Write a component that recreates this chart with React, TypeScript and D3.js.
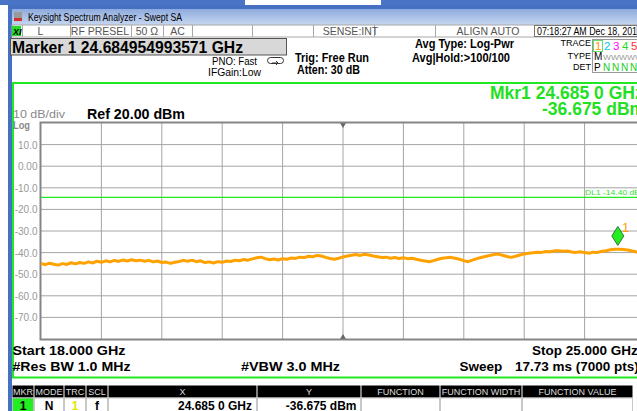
import React from "react";
import * as d3 from "d3";

const freqStart = 18.0;
const freqStop = 25.0;
const freqStep = 0.05;
const refLevel = 20;
const dbPerDiv = 10;
const yTickValues = [10, 0, -10, -20, -30, -40, -50, -60, -70];
const yTickLabels = ["10.0", "0.00", "-10.0", "-20.0", "-30.0", "-40.0", "-50.0", "-60.0", "-70.0"];
const traceValues = [
  -45.0, -45.6, -44.9, -45.4, -45.8, -45.1, -45.5, -44.7, -45.2, -44.6,
  -45.0, -44.3, -44.8, -44.0, -44.5, -43.8, -44.3, -43.6, -44.1, -43.4,
  -43.9, -43.3, -43.8, -43.5, -44.0, -43.6, -44.3, -43.9, -44.6, -44.4,
  -45.0, -44.5, -44.1, -43.6, -44.0, -43.5, -44.2, -43.8, -44.6, -44.3,
  -44.8, -44.2, -44.5, -43.9, -44.1, -43.5, -43.8, -43.2, -43.5, -42.9,
  -42.4, -42.1, -42.8, -43.3, -43.0, -43.4, -42.8, -43.1, -42.5, -42.7,
  -42.1, -42.3, -41.7, -41.9, -41.3, -41.6, -42.2, -42.7, -43.1, -42.6,
  -42.0, -41.6, -41.2, -40.9, -41.3, -40.8, -41.1, -41.6, -41.9, -42.3,
  -42.1, -42.6, -42.3, -42.7, -42.4, -42.8, -42.6, -43.1, -43.5, -43.9,
  -44.2, -43.7, -43.1, -42.6, -42.4, -42.2, -42.6, -43.1, -43.7, -44.2,
  -43.5, -42.8, -42.3, -41.8, -41.3, -40.9, -40.7, -41.2, -41.8, -42.2,
  -41.7, -41.1, -40.6, -40.3, -40.1, -39.8, -39.9, -39.5, -39.6, -39.2,
  -39.1, -39.4, -39.2, -39.7, -39.9, -39.6, -40.0, -40.3, -39.8, -39.9,
  -39.4, -39.1, -38.7, -38.4, -38.5, -38.6, -38.8, -39.2, -39.7, -40.1,
  -40.3,
];
const markerFreq = 24.685;
const markerValue = -36.675;
const displayLine = -14.4;
const statusCells = ["L", "RF PRESEL", "50 Ω", "AC", "SENSE:INT", "ALIGN AUTO"];
const traceNumbers = ["1", "2", "3", "4", "5"];
const traceColors = ["#ff9a00", "#00c8f0", "#ff00ff", "#22dd22", "#ff3030"];
const tableHeaders = ["MKR", "MODE", "TRC", "SCL", "X", "Y", "FUNCTION", "FUNCTION WIDTH", "FUNCTION VALUE"];
const tableRow = ["1", "N", "1", "f", "24.685 0 GHz", "-36.675 dBm", "", "", ""];

const F = "'Liberation Sans', Arial, sans-serif";

function T(props: any) {
  const { x, y, size = 12, bold = false, fill = "#000", anchor = "start", len, children, ...rest } = props;
  return (
    <text
      x={x}
      y={y}
      fontFamily={F}
      fontSize={size}
      fontWeight={bold ? "bold" : "normal"}
      fill={fill}
      textAnchor={anchor}
      {...(len ? { textLength: len, lengthAdjust: "spacingAndGlyphs" } : {})}
      {...rest}
    >
      {children}
    </text>
  );
}

export default function App() {
  const W = 637;
  const H = 411;
  const x = d3.scaleLinear().domain([freqStart, freqStop]).range([41, 645]);
  const y = d3.scaleLinear().domain([refLevel - 10 * dbPerDiv, refLevel]).range([339, 123]);
  const pts: [number, number][] = traceValues.map((v, i) => [freqStart + i * freqStep, v]);
  const line = d3
    .line<[number, number]>()
    .x((d) => x(d[0]))
    .y((d) => y(d[1]));
  const vGrid = d3.range(1, 10).map((i) => freqStart + (i * (freqStop - freqStart)) / 10);
  const centerF = (freqStart + freqStop) / 2;
  const mx = x(markerFreq);
  const my = y(markerValue);

  const statusX = [40.5, 100, 147, 177.5, 350.5, 488];
  const statusDiv = [22, 70, 131, 163, 192, 252, 313, 374, 435, 534];
  const colEdges = [12, 34, 64, 86, 108, 257, 361, 440, 522, 633];

  return (
    <div>
      <style>{`body{margin:0;}`}</style>
      <svg width={W} height={H} style={{ display: "block" }}>
        <defs>
          <linearGradient id="tb" x1="0" y1="0" x2="0" y2="1">
            <stop offset="0" stopColor="#8eabdd" />
            <stop offset="1" stopColor="#c6d6f0" />
          </linearGradient>
        </defs>
        <rect x={0} y={0} width={W} height={H} fill="#fff" />
        {/* top window frame */}
        <rect x={0} y={0} width={245} height={5} fill="#4a74c6" />
        <rect x={381} y={0} width={256} height={5} fill="#4a74c6" />
        <rect x={8} y={5} width={629} height={4} fill="#4670c2" />
        <rect x={8} y={5} width={4} height={406} fill="#4670c2" />
        {/* title bar */}
        <rect x={12} y={9} width={625} height={16} fill="url(#tb)" />
        <rect x={14} y={12} width={8} height={9} fill="#9a9a9a" />
        <rect x={14} y={18} width={8} height={3} fill="#d03030" />
        <T x={28} y={21} size={11.5} len={154}>Keysight Spectrum Analyzer - Swept SA</T>
        {/* status row */}
        <rect x={12} y={25} width={625} height={12} fill="#fff" stroke="#a8a8a8" strokeWidth={1} />
        {statusDiv.map((d, i) => (
          <line key={i} x1={d + 0.5} x2={d + 0.5} y1={25} y2={37} stroke="#a8a8a8" />
        ))}
        <rect x={12} y={26} width={9} height={10} fill="#22dd22" />
        <T x={13} y={34.5} size={9} bold fontStyle="italic">XI</T>
        {statusCells.map((s, i) => (
          <T key={i} x={statusX[i]} y={35} size={10.5} fill="#555" anchor="middle">
            {s}
          </T>
        ))}
        <rect x={534.5} y={25.5} width={103} height={11} fill="none" stroke="#777" />
        <T x={537} y={35} size={10.5} len={100}>07:18:27 AM Dec 18, 201</T>
        {/* marker box */}
        <rect x={10.5} y={38.5} width={276} height={16.5} fill="#d8d8d8" stroke="#555" strokeWidth={1} />
        <T x={12} y={52.5} size={16} bold len={231}>Marker 1 24.684954993571 GHz</T>
        <T x={212} y={65} size={11} len={45}>PNO: Fast</T>
        <T x={208} y={75.5} size={11} len={53}>IFGain:Low</T>
        <rect x={267.5} y={57.5} width={16} height={6} rx={3} fill="none" stroke="#333" />
        <path d="M272,63 L278,63 M276,61 L278,63 L276,65" fill="none" stroke="#333" />
        <T x={295} y={61.5} size={12} bold len={74}>Trig: Free Run</T>
        <T x={297} y={74} size={12} bold len={63}>Atten: 30 dB</T>
        <T x={415} y={48} size={12} bold len={99}>Avg Type: Log-Pwr</T>
        <T x={412} y={62} size={12} bold len={98}>Avg|Hold:&gt;100/100</T>
        {/* trace box */}
        <T x={591} y={46} size={9} anchor="end">TRACE</T>
        <T x={591} y={58.5} size={9} anchor="end">TYPE</T>
        <T x={591} y={70} size={9} anchor="end">DET</T>
        <rect x={592.5} y={39.5} width={50} height={33} fill="none" stroke="#999" />
        <rect x={593.5} y={40.5} width={9} height={11} fill="none" stroke="#66dd66" />
        {traceNumbers.map((n, i) => (
          <T key={i} x={595 + i * 9} y={50} size={11.5} fill={traceColors[i]}>
            {n}
          </T>
        ))}
        <T x={594} y={60} size={10}>M</T>
        <T x={603} y={60} size={8} fill="#999" len={40}>WWWWW</T>
        <T x={594} y={71} size={10}>P</T>
        {traceNumbers.map((n, i) => (
          <T key={"d" + i} x={603 + i * 9} y={71} size={10} fill="#22cc22">
            N
          </T>
        ))}
        {/* green display frame */}
        <line x1={12} x2={637} y1={83} y2={83} stroke="#22e822" strokeWidth={2} />
        <line x1={13} x2={13} y1={82} y2={378} stroke="#22e822" strokeWidth={2} />
        <line x1={12} x2={637} y1={377.5} y2={377.5} stroke="#22e822" strokeWidth={2} />
        <T x={490} y={99} size={17.5} bold fill="#22e022">Mkr1 24.685 0 GHz</T>
        <T x={542} y={114.5} size={17.5} bold fill="#22e022">-36.675 dBm</T>
        <T x={13} y={118} size={11} fill="#888" len={52}>10 dB/div</T>
        <T x={13} y={128.5} size={10.5} fill="#888" bold len={17}>Log</T>
        <T x={87} y={119} size={14} bold len={98}>Ref 20.00 dBm</T>
        {/* grid */}
        {yTickValues.map((v, i) => (
          <g key={i}>
            <line x1={41} x2={645} y1={y(v)} y2={y(v)} stroke="#a4a4a4" strokeWidth={1} />
            <T x={37.5} y={y(v) + 4} size={10} fill="#999" anchor="end">
              {yTickLabels[i]}
            </T>
          </g>
        ))}
        {vGrid.map((f, i) => (
          <line key={i} x1={x(f)} x2={x(f)} y1={123} y2={339} stroke="#a4a4a4" strokeWidth={1} />
        ))}
        <path
          d={`M${x(centerF) - 3},${123} L${x(centerF) + 3},${123} L${x(centerF)},${128} Z`}
          fill="#666"
        />
        <path
          d={`M${x(centerF) - 3},${339} L${x(centerF) + 3},${339} L${x(centerF)},${334} Z`}
          fill="#666"
        />
        <rect x={40.5} y={122.5} width={610} height={217} fill="none" stroke="#858585" strokeWidth={2} />
        {/* display line */}
        <line x1={41} x2={645} y1={y(displayLine)} y2={y(displayLine)} stroke="#22e822" strokeWidth={1.2} />
        <T x={585} y={195} size={7.5} fill="#33dd33" len={55}>DL1 -14.40 dB</T>
        {/* trace */}
        <path d={line(pts) || ""} fill="none" stroke="#ffa200" strokeWidth={3} strokeLinejoin="round" />
        {/* marker */}
        <path
          d={`M${mx},${my} L${mx + 6},${my - 9.5} L${mx},${my - 19} L${mx - 6},${my - 9.5} Z`}
          fill="#22ee22"
          stroke="#225522"
          strokeWidth={0.8}
        />
        <T x={622} y={232} size={13} fill="#ff9a00">1</T>
        {/* bottom annotations */}
        <T x={12.5} y={355} size={13.5} bold len={113}>Start 18.000 GHz</T>
        <T x={12.5} y={371} size={13.5} bold len={118}>#Res BW 1.0 MHz</T>
        <T x={241} y={371} size={13.5} bold len={99}>#VBW 3.0 MHz</T>
        <T x={532} y={355} size={13.5} bold>Stop 25.000 GHz</T>
        <T x={459.5} y={371} size={13.5} bold>Sweep</T>
        <T x={515} y={371} size={13.5} bold>17.73 ms (7000 pts)</T>
        {/* marker table */}
        {tableHeaders.map((h, i) => (
          <g key={i}>
            <rect x={colEdges[i] + 0.5} y={385.5} width={colEdges[i + 1] - colEdges[i] - 1} height={12} fill="#000" />
            <T x={(colEdges[i] + colEdges[i + 1]) / 2} y={395} size={9} fill="#ddd" anchor="middle">
              {h}
            </T>
            <rect
              x={colEdges[i] + 0.5}
              y={398}
              width={colEdges[i + 1] - colEdges[i] - 1}
              height={14}
              fill={i === 0 ? "#22ee22" : "#fff"}
              stroke="#bbb"
              strokeWidth={0.8}
            />
          </g>
        ))}
        {tableRow.slice(0, 4).map((v, i) => (
          <T
            key={i}
            x={(colEdges[i] + colEdges[i + 1]) / 2}
            y={410}
            size={12}
            bold
            fill={i === 2 ? "#e6e600" : "#000"}
            anchor="middle"
          >
            {v}
          </T>
        ))}
        <T x={252} y={410} size={12} bold anchor="end">{tableRow[4]}</T>
        <T x={356.5} y={410} size={12} bold anchor="end">{tableRow[5]}</T>
      </svg>
    </div>
  );
}
